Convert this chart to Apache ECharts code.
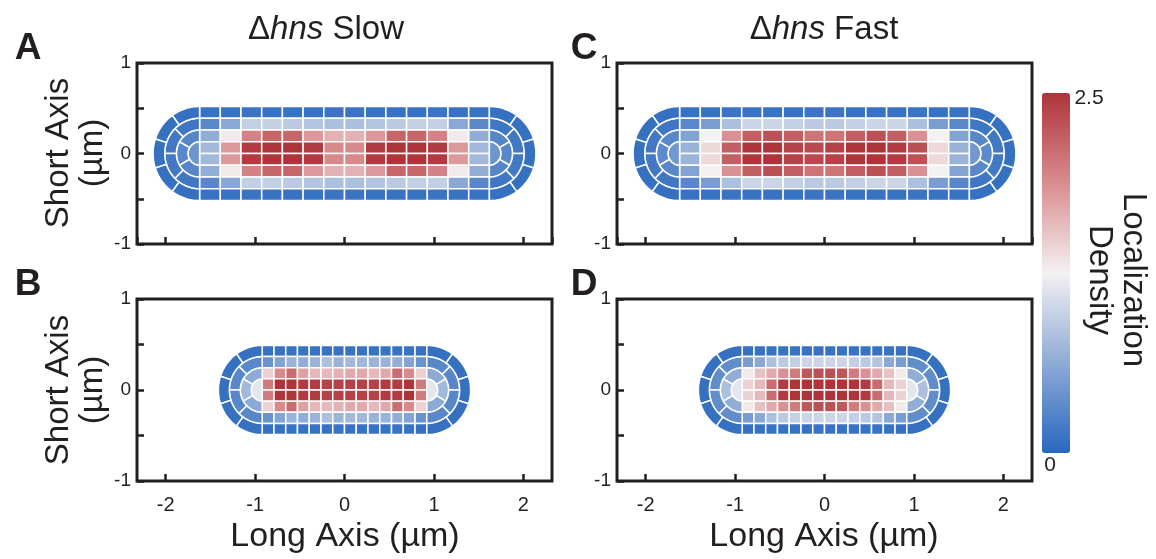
<!DOCTYPE html>
<html>
<head>
<meta charset="utf-8">
<script src="https://cdn.jsdelivr.net/npm/echarts@6/dist/echarts.min.js"></script>
<style>
html,body{margin:0;padding:0;background:#fff}
#main{width:1156px;height:559px}
</style>
</head>
<body>
<div id="main"></div>
<script>
// cylinder grid: 8 rows (top to bottom) x 14 columns; caps: rings inner -> outer, segments top -> bottom
var nCols = 14, nRows = 8;
var capSegments = [1, 3, 4, 5];
var densityTicks = ['2.5', '0'];

var slowLongRows = [
  [0.1, 0.1, 0.12, 0.1, 0.1, 0.1, 0.12, 0.12, 0.1, 0.1, 0.1, 0.12, 0.1, 0.1],
  [0.3, 0.6, 0.95, 0.95, 0.9, 0.85, 0.8, 0.8, 0.85, 0.9, 0.95, 0.95, 0.6, 0.3],
  [0.65, 1.3, 1.95, 2.15, 2.15, 1.8, 1.65, 1.65, 1.8, 2.15, 2.15, 1.95, 1.3, 0.65],
  [0.75, 1.8, 2.45, 2.5, 2.5, 2.45, 1.9, 1.9, 2.45, 2.5, 2.5, 2.45, 1.8, 0.75],
  [0.75, 1.8, 2.45, 2.5, 2.5, 2.45, 1.9, 1.9, 2.45, 2.5, 2.5, 2.45, 1.8, 0.75],
  [0.65, 1.3, 1.95, 2.15, 2.15, 1.8, 1.65, 1.65, 1.8, 2.15, 2.15, 1.95, 1.3, 0.65],
  [0.3, 0.6, 0.95, 0.95, 0.9, 0.85, 0.8, 0.8, 0.85, 0.9, 0.95, 0.95, 0.6, 0.3],
  [0.1, 0.1, 0.12, 0.1, 0.1, 0.1, 0.12, 0.12, 0.1, 0.1, 0.1, 0.12, 0.1, 0.1]
];
var slowLongCaps = [[0.42], [0.28, 0.3, 0.28], [0.15, 0.16, 0.16, 0.15], [0.08, 0.08, 0.08, 0.08, 0.08]];

var slowShortRows = [
  [0.08, 0.1, 0.1, 0.1, 0.1, 0.1, 0.1, 0.1, 0.1, 0.1, 0.1, 0.1, 0.1, 0.08],
  [0.4, 0.55, 0.7, 0.65, 0.7, 0.8, 0.7, 0.75, 0.75, 0.7, 0.7, 0.65, 0.55, 0.4],
  [1.45, 1.9, 2.1, 1.75, 1.6, 1.6, 1.65, 1.7, 1.7, 1.6, 1.7, 2.1, 1.9, 1.45],
  [2.0, 2.5, 2.5, 2.45, 2.45, 2.4, 2.4, 2.4, 2.4, 2.4, 2.45, 2.45, 2.5, 2.0],
  [2.0, 2.5, 2.5, 2.45, 2.45, 2.4, 2.4, 2.4, 2.4, 2.4, 2.45, 2.45, 2.5, 2.0],
  [1.45, 1.9, 2.1, 1.75, 1.6, 1.6, 1.65, 1.7, 1.7, 1.6, 1.7, 2.1, 1.9, 1.45],
  [0.4, 0.55, 0.7, 0.65, 0.7, 0.8, 0.7, 0.75, 0.75, 0.7, 0.7, 0.65, 0.55, 0.4],
  [0.08, 0.1, 0.1, 0.1, 0.1, 0.1, 0.1, 0.1, 0.1, 0.1, 0.1, 0.1, 0.1, 0.08]
];
var slowShortCaps = [[1.15], [0.62, 0.75, 0.62], [0.3, 0.3, 0.3, 0.3], [0.08, 0.08, 0.08, 0.08, 0.08]];

var fastLongRows = [
  [0.1, 0.1, 0.12, 0.1, 0.1, 0.1, 0.12, 0.12, 0.1, 0.1, 0.1, 0.12, 0.1, 0.1],
  [0.3, 0.5, 0.8, 1.0, 1.0, 0.95, 0.9, 0.9, 0.95, 1.0, 1.0, 0.8, 0.5, 0.3],
  [0.55, 1.25, 1.85, 2.2, 2.3, 2.2, 2.05, 2.05, 2.2, 2.3, 2.2, 1.85, 1.25, 0.55],
  [0.7, 1.4, 2.2, 2.5, 2.5, 2.4, 2.35, 2.4, 2.5, 2.5, 2.45, 2.3, 1.4, 0.7],
  [0.7, 1.4, 2.2, 2.5, 2.5, 2.4, 2.35, 2.4, 2.5, 2.5, 2.45, 2.3, 1.4, 0.7],
  [0.55, 1.25, 1.85, 2.2, 2.3, 2.2, 2.05, 2.05, 2.2, 2.3, 2.2, 1.85, 1.25, 0.55],
  [0.3, 0.5, 0.8, 1.0, 1.0, 0.95, 0.9, 0.9, 0.95, 1.0, 1.0, 0.8, 0.5, 0.3],
  [0.1, 0.1, 0.12, 0.1, 0.1, 0.1, 0.12, 0.12, 0.1, 0.1, 0.1, 0.12, 0.1, 0.1]
];
var fastLongCaps = [[0.45], [0.3, 0.32, 0.3], [0.15, 0.16, 0.16, 0.15], [0.08, 0.08, 0.08, 0.08, 0.08]];

var fastShortRows = [
  [0.08, 0.1, 0.1, 0.1, 0.1, 0.1, 0.1, 0.1, 0.1, 0.1, 0.1, 0.1, 0.1, 0.08],
  [0.5, 0.6, 0.8, 0.9, 0.95, 1.0, 1.0, 1.0, 1.0, 0.95, 0.9, 0.85, 0.6, 0.5],
  [1.3, 1.55, 1.7, 1.85, 2.0, 2.25, 2.3, 2.3, 2.25, 2.0, 1.85, 1.7, 1.55, 1.3],
  [1.45, 1.6, 2.1, 2.45, 2.5, 2.5, 2.5, 2.5, 2.5, 2.5, 2.45, 2.1, 1.6, 1.45],
  [1.45, 1.6, 2.1, 2.45, 2.5, 2.5, 2.5, 2.5, 2.5, 2.5, 2.45, 2.1, 1.6, 1.45],
  [1.3, 1.55, 1.7, 1.85, 2.0, 2.25, 2.3, 2.3, 2.25, 2.0, 1.85, 1.7, 1.55, 1.3],
  [0.5, 0.6, 0.8, 0.9, 0.95, 1.0, 1.0, 1.0, 1.0, 0.95, 0.9, 0.85, 0.6, 0.5],
  [0.08, 0.1, 0.1, 0.1, 0.1, 0.1, 0.1, 0.1, 0.1, 0.1, 0.1, 0.1, 0.1, 0.08]
];
var fastShortCaps = [[1.15], [0.65, 0.8, 0.65], [0.35, 0.35, 0.35, 0.35], [0.08, 0.08, 0.08, 0.08, 0.08]];

var FONT = 'Liberation Sans, Arial, Helvetica, sans-serif';
var INK = '#231f20';

// half-length of cylinder part and radius, in µm
var panels = [
  { rows: slowLongRows, caps: slowLongCaps, halfLen: 1.62, radius: 0.52, grid: { left: 137, top: 63, width: 415, height: 181 }, bottom: false },
  { rows: slowShortRows, caps: slowShortCaps, halfLen: 0.92, radius: 0.49, grid: { left: 137, top: 299, width: 415, height: 182 }, bottom: true },
  { rows: fastLongRows, caps: fastLongCaps, halfLen: 1.62, radius: 0.52, grid: { left: 617, top: 63, width: 415, height: 181 }, bottom: false },
  { rows: fastShortRows, caps: fastShortCaps, halfLen: 0.92, radius: 0.49, grid: { left: 617, top: 299, width: 415, height: 182 }, bottom: true }
];

function buildCells(p) {
  var out = [];
  var dx = 2 * p.halfLen / nCols, dy = 2 * p.radius / nRows;
  for (var r = 0; r < nRows; r++) {
    for (var c = 0; c < nCols; c++) {
      var x0 = -p.halfLen + c * dx;
      var yTop = p.radius - r * dy;
      out.push([p.rows[r][c], 0, x0, x0 + dx, yTop - dy, yTop, 0]);
    }
  }
  var dr = p.radius / capSegments.length;
  for (var k = 0; k < capSegments.length; k++) {
    var n = capSegments[k];
    for (var j = 0; j < n; j++) {
      var v = p.caps[k][j];
      // left cap: 90 -> 270 deg, right cap: 90 -> -90 deg
      out.push([v, 1, -p.halfLen, k * dr, (k + 1) * dr, 90 + 180 * j / n, 90 + 180 * (j + 1) / n]);
      out.push([v, 1, p.halfLen, k * dr, (k + 1) * dr, 90 - 180 * j / n, 90 - 180 * (j + 1) / n]);
    }
  }
  return out;
}

function renderCell(params, api) {
  var pts = [];
  if (api.value(1) === 0) {
    var x0 = api.value(2), x1 = api.value(3), y0 = api.value(4), y1 = api.value(5);
    pts = [api.coord([x0, y0]), api.coord([x1, y0]), api.coord([x1, y1]), api.coord([x0, y1])];
  } else {
    var cx = api.value(2), r0 = api.value(3), r1 = api.value(4);
    var a0 = api.value(5) * Math.PI / 180, a1 = api.value(6) * Math.PI / 180;
    var steps = 14, i, a;
    for (i = 0; i <= steps; i++) {
      a = a0 + (a1 - a0) * i / steps;
      pts.push(api.coord([cx + r1 * Math.cos(a), r1 * Math.sin(a)]));
    }
    if (r0 > 0) {
      for (i = steps; i >= 0; i--) {
        a = a0 + (a1 - a0) * i / steps;
        pts.push(api.coord([cx + r0 * Math.cos(a), r0 * Math.sin(a)]));
      }
    } else {
      pts.push(api.coord([cx, 0]));
    }
  }
  return {
    type: 'polygon',
    shape: { points: pts },
    style: { fill: api.visual('color'), stroke: '#ffffff', lineWidth: 1.5 }
  };
}

var grids = [], xAxes = [], yAxes = [], series = [];
panels.forEach(function (p, i) {
  grids.push(Object.assign({ show: true, borderColor: INK, borderWidth: 3, backgroundColor: 'transparent' }, p.grid));
  xAxes.push({
    gridIndex: i, type: 'value', min: -2.32, max: 2.32, splitNumber: 4, position: 'bottom',
    axisLine: { show: false, onZero: false }, splitLine: { show: false },
    axisTick: { show: true, inside: true, length: 7, lineStyle: { color: INK, width: 2.5 } },
    axisLabel: { show: p.bottom, showMinLabel: false, showMaxLabel: false, fontSize: 20, color: INK, fontFamily: FONT, margin: 14 }
  });
  yAxes.push({
    gridIndex: i, type: 'value', min: -1, max: 1, interval: 0.5, position: 'left',
    axisLine: { show: false, onZero: false }, splitLine: { show: false },
    axisTick: { show: true, inside: true, length: 7, lineStyle: { color: INK, width: 2.5 } },
    axisLabel: {
      fontSize: 19, color: INK, fontFamily: FONT, margin: 6,
      formatter: function (v) { return Math.abs(v % 1) < 1e-9 ? String(v) : ''; }
    }
  });
  series.push({
    type: 'custom', xAxisIndex: i, yAxisIndex: i, coordinateSystem: 'cartesian2d',
    renderItem: renderCell, data: buildCells(p), silent: true, animation: false
  });
});

function label(txt, x, y, size, weight, extra) {
  return Object.assign({
    type: 'text', x: x, y: y, silent: true,
    style: { text: txt, fontSize: size, fontWeight: weight || 'normal', fontFamily: FONT, fill: INK, align: 'center', verticalAlign: 'middle' }
  }, extra || {});
}

function rotated(txt, x, y, rot) {
  return {
    type: 'text', x: x, y: y, rotation: rot, silent: true,
    style: { text: txt, fontSize: 33, fontFamily: FONT, fill: INK, align: 'center', verticalAlign: 'middle', lineHeight: 34 }
  };
}

function titleText(word, x) {
  return {
    type: 'text', x: x, y: 30, silent: true,
    style: {
      text: '{n|Δ}{i|hns}{n| ' + word + '}', align: 'center', verticalAlign: 'middle',
      rich: {
        n: { fontSize: 33, fontFamily: FONT, fill: INK },
        i: { fontSize: 33, fontFamily: FONT, fontStyle: 'italic', fill: INK }
      }
    }
  };
}

var graphics = [
  label('A', 28, 49, 37, 'bold'),
  label('B', 28, 285, 37, 'bold'),
  label('C', 584, 49, 37, 'bold'),
  label('D', 584, 285, 37, 'bold'),
  titleText('Slow', 326),
  titleText('Fast', 824),
  rotated('Short Axis\n(µm)', 76, 153, Math.PI / 2),
  rotated('Short Axis\n(µm)', 76, 390, Math.PI / 2),
  label('Long Axis (µm)', 345, 537, 34),
  label('Long Axis (µm)', 824, 537, 34),
  label(densityTicks[0], 1089, 98, 21),
  label(densityTicks[1], 1050, 465, 21),
  rotated('Localization\nDensity', 1116, 280, -Math.PI / 2)
];

var chart = echarts.init(document.getElementById('main'), null, { renderer: 'canvas' });
chart.setOption({
  backgroundColor: '#ffffff',
  animation: false,
  grid: grids,
  xAxis: xAxes,
  yAxis: yAxes,
  visualMap: {
    type: 'continuous', min: 0, max: 2.5, dimension: 0, seriesIndex: [0, 1, 2, 3],
    calculable: false, hoverLink: false, text: null, showLabel: false,
    left: 1027, top: 78, itemWidth: 28, itemHeight: 360,
    inRange: { color: ['#2867be', '#8eabd6', '#f4f1f2', '#d98d8f', '#ad3439'] }
  },
  graphic: graphics,
  series: series
});
</script>
</body>
</html>
